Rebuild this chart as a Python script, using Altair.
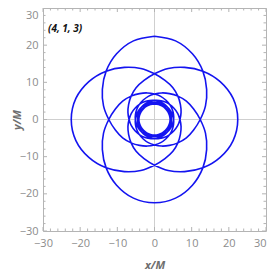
import altair as alt
import pandas as pd

# ---- values ----
# radial profile of one half radial period: angle from apoapsis (deg) -> r/M
offsets_deg = [0, 15, 30, 45, 60, 75, 90, 105, 120, 135, 150, 165, 180, 195, 210,
               225, 240, 255, 270, 285, 300, 315, 330, 345, 360, 375, 390, 405,
               420, 435, 450, 465, 480, 495]
radius_M = [22.40, 21.90, 20.40, 18.40, 16.20, 14.20, 12.30, 10.90, 9.90, 8.90,
            8.05, 7.40, 6.85, 6.45, 6.05, 5.75, 5.50, 5.30, 5.15, 5.02, 4.92,
            4.82, 4.73, 4.64, 4.56, 4.48, 4.41, 4.35, 4.29, 4.25, 4.21, 4.18,
            4.17, 4.16]
half_period_deg = 495          # apoapsis -> periapsis
leaf_apoapsis_deg = [90, 0, 270, 180]   # leaf directions in drawing order

major_ticks = [-30, -20, -10, 0, 10, 20, 30]
minor_ticks = [-28, -26, -24, -22, -18, -16, -14, -12, -8, -6, -4, -2,
               2, 4, 6, 8, 12, 14, 16, 18, 22, 24, 26, 28]
label_text = "(4, 1, 3)"

# ---- build the orbit table ----
rows = []
i = 0
for apo in leaf_apoapsis_deg:
    for d, r in zip(offsets_deg, radius_M):
        rows.append({"i": i, "phi": apo + d, "r": r}); i += 1
    for d, r in zip(reversed(offsets_deg[1:-1]), reversed(radius_M[1:-1])):
        rows.append({"i": i, "phi": apo + 2 * half_period_deg - d, "r": r}); i += 1
rows.append({"i": i, "phi": leaf_apoapsis_deg[0], "r": radius_M[0]})
orbit = pd.DataFrame(rows)

W = H = 223
GRAY = "#b4b4b4"
dom = [-30, 30]
xs = alt.Scale(domain=dom, nice=False, zero=False)
ys = alt.Scale(domain=dom, nice=False, zero=False)

lab = dict(labelFont="Open Sans", labelFontSize=11, labelColor="#8c8c8c",
           labelOverlap=False, labelFlush=False,
           titleFont="Open Sans", titleFontSize=11, titleColor="#6e6e6e",
           titleFontStyle="italic", titleFontWeight="bold",
           ticks=False, domain=False, grid=False, values=major_ticks)
ax_x = alt.Axis(title="x/M", labelPadding=6, titleX=W / 2, titleY=34,
                titleBaseline="middle",
                labelAlign={"condition": {"test": "datum.value == 30", "value": "right"},
                            "value": "center"},
                **lab)
ax_y = alt.Axis(title="y/M", labelPadding=5, titleX=-26, titleY=H / 2,
                titleAngle=270, titleBaseline="middle",
                labelOffset={"condition": {"test": "datum.value == 30", "value": 7},
                             "value": 0},
                **lab)


def X(f):
    return alt.X(f, scale=xs, axis=ax_x, title="x/M")


def Y(f):
    return alt.Y(f, scale=ys, axis=ax_y, title="y/M")


line = alt.Chart(orbit).mark_line(
    color="#1414f0", strokeWidth=1.6, interpolate="catmull-rom"
).transform_calculate(
    x="datum.r * cos(datum.phi * PI / 180)",
    y="datum.r * sin(datum.phi * PI / 180)",
).encode(x=X("x:Q"), y=Y("y:Q"), order="i:Q")

zero = pd.DataFrame({"v": [0]})
gx = alt.Chart(zero).mark_rule(color="#cfcfcf", strokeWidth=1).encode(
    x=X("v:Q"), y=alt.value(0), y2=alt.value(H))
gy = alt.Chart(zero).mark_rule(color="#cfcfcf", strokeWidth=1).encode(
    y=Y("v:Q"), x=alt.value(0), x2=alt.value(W))


def tick_layers(vals, ln):
    df = pd.DataFrame({"v": vals})
    b = alt.Chart(df).mark_rule(color=GRAY, strokeWidth=1)
    return [
        b.encode(x=X("v:Q"), y=alt.value(H), y2=alt.value(H - ln)),
        b.encode(x=X("v:Q"), y=alt.value(0), y2=alt.value(ln)),
        b.encode(y=Y("v:Q"), x=alt.value(0), x2=alt.value(ln)),
        b.encode(y=Y("v:Q"), x=alt.value(W), x2=alt.value(W - ln)),
    ]


label = alt.Chart(pd.DataFrame({"t": [label_text]})).mark_text(
    align="left", baseline="middle", font="Open Sans", fontSize=10,
    fontStyle="italic", fontWeight="bold", color="#111111"
).encode(text="t:N", x=alt.value(5), y=alt.value(20.5))

chart = alt.layer(
    gx, gy, *tick_layers(major_ticks, 4), *tick_layers(minor_ticks, 2.5), line, label
).properties(
    width=W, height=H,
    autosize=alt.AutoSizeParams(type="none"),
    padding={"left": 35, "top": 0, "right": 1, "bottom": 42},
).configure_view(stroke=GRAY, strokeWidth=1)

chart.save("out.html", embed_options={"renderer": "svg", "actions": False})
